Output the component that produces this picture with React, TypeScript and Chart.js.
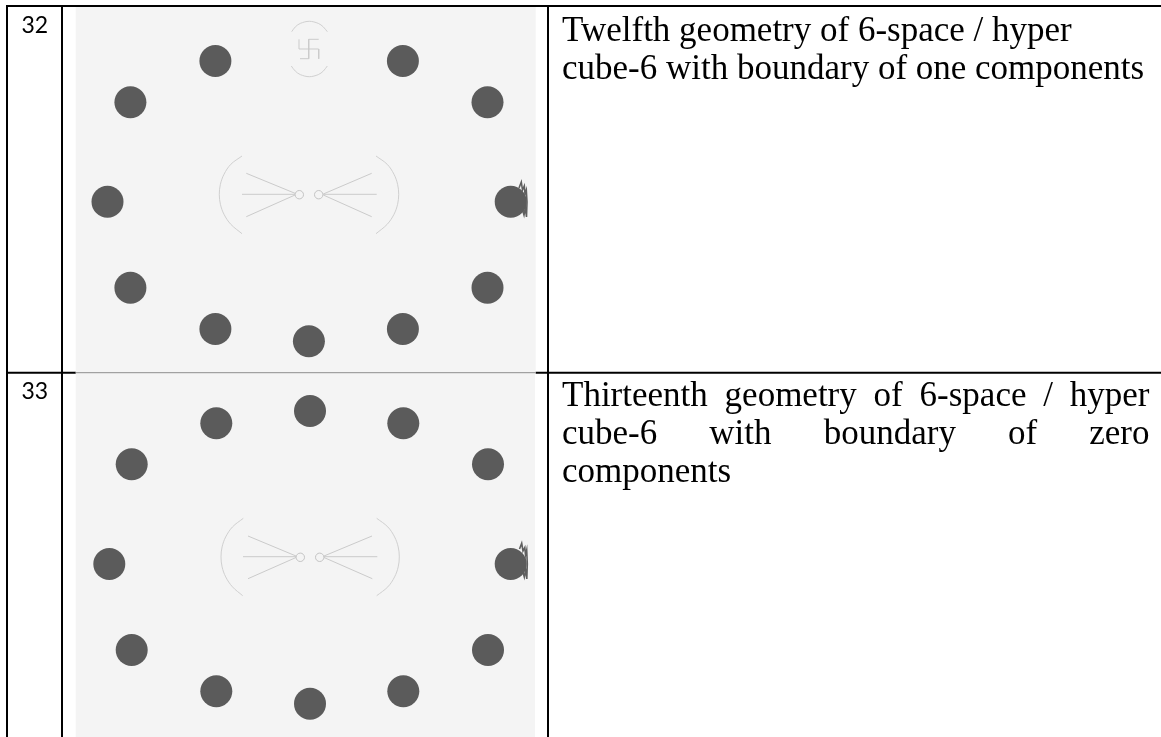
import React, { useEffect, useRef } from "react";
import { Chart, registerables } from "chart.js";

Chart.register(...registerables);

type P = { x: number; y: number };
const pts = (...v: number[][]): P[] => v.map(([x, y]) => ({ x, y }));

const dots32 = pts([215.4, 61], [402.9, 61], [130.4, 102.3], [487.5, 102.3], [107.5, 201.7], [510.7, 201.7], [130.4, 287.7], [487.5, 287.7], [215.4, 329], [402.9, 329], [308.9, 341.3]);
const dots33 = pts([216.3, 423.3], [403.3, 423.3], [310, 411], [131.7, 464.3], [488, 464.3], [109.3, 564], [510.7, 564], [131.7, 650], [488, 650], [216.3, 691.3], [403.3, 691.3], [310, 703.7]);

const spikes32 = pts([519, 188], [521.3, 182], [522.5, 190], [524.3, 186], [525, 194], [526.3, 190], [527, 202], [526.5, 217], [525.3, 208], [524, 215], [522, 208]);
const spikes33 = pts([519.5, 549], [521.7, 543.3], [523, 551], [524.8, 547.5], [525.5, 555], [526.7, 550], [527.3, 564], [526.8, 579], [525.6, 570], [524.3, 577], [522.3, 570]);

const rings32 = pts([299.3, 194.7], [318.7, 194.7]);
const rings33 = pts([300.3, 557.3], [319.7, 557.3]);

const curves = [
  pts([242, 156], [230.8, 164.3], [224, 174.3], [220.4, 184.3], [219.3, 194.3], [220.4, 204.3], [224, 214.3], [230.8, 224.3], [242, 233.7]),
  pts([376, 156], [387.2, 164.3], [394, 174.3], [397.6, 184.3], [398.7, 194.3], [397.6, 204.3], [394, 214.3], [387.2, 224.3], [376, 233.7]),
  pts([291.7, 31.7], [295.3, 26.9], [300.3, 23.4], [309.3, 21.3], [318.3, 23.4], [323.3, 26.9], [327.3, 31.7]),
  pts([291.3, 66], [295.3, 71.1], [300.3, 74.6], [309.3, 76.7], [318.3, 74.6], [323.3, 71.1], [327.3, 66]),
  pts([243.3, 518.3], [232.5, 526.9], [225.7, 536.9], [222.1, 546.9], [221, 556.9], [222.1, 566.9], [225.7, 576.9], [232.5, 586.9], [242.7, 595.7]),
  pts([376.7, 518.3], [387.8, 526.9], [394.6, 536.9], [398.2, 546.9], [399.3, 556.9], [398.2, 566.9], [394.6, 576.9], [387.8, 586.9], [376.7, 595.7]),
];

const strokes = [
  pts([246.3, 173.3], [295, 193.3]), pts([242, 194.3], [295, 194.3]), pts([246.3, 216.7], [295, 195]),
  pts([371.7, 173.3], [323.3, 194]), pts([376.7, 194.3], [323.3, 194.3]), pts([371.7, 216.7], [323.3, 195]),
  pts([248, 536], [296, 556]), pts([243, 556.7], [296, 556.7]), pts([248, 578.7], [296, 557.5]),
  pts([372, 536], [324, 556]), pts([377.3, 556.7], [324, 556.7]), pts([372.3, 578.7], [324, 557.5]),
  pts([308.7, 39.3], [308.7, 58.7]), pts([299, 49], [318.7, 49]), pts([308.7, 39.3], [318.7, 39.3]),
  pts([318.7, 49], [318.7, 58.7]), pts([308.7, 58.7], [300, 58.7]), pts([299, 49], [299, 39.3]),
];

const rules = [
  pts([6, 6], [1161, 6]), pts([7, 6], [7, 737]), pts([62, 6], [62, 737]), pts([548, 6], [548, 737]),
  pts([7, 372.7], [75.7, 372.7]), pts([535.7, 372.7], [1161, 372.7]),
];
const softRules = [pts([75.7, 372.7], [535.7, 372.7])];

const panels = [
  { x0: 75.7, x1: 535.7, y0: 7, y1: 372 },
  { x0: 75.7, x1: 535, y0: 373, y1: 737 },
];

const rowLabels = [
  { text: "32", x: 21.5, y: 32.5 },
  { text: "33", x: 21.5, y: 399 },
];

const captionLines = [
  { words: ["Twelfth", "geometry", "of", "6-space", "/", "hyper"], x: 562, y: 40.5, end: 0 },
  { words: ["cube-6", "with", "boundary", "of", "one", "components"], x: 562, y: 79, end: 0 },
  { words: ["Thirteenth", "geometry", "of", "6-space", "/", "hyper"], x: 562, y: 405.5, end: 1149.5 },
  { words: ["cube-6", "with", "boundary", "of", "zero"], x: 562, y: 444, end: 1149.5 },
  { words: ["components"], x: 562, y: 482, end: 0 },
];

const tablePlugin = {
  id: "tablePlugin",
  beforeDatasetsDraw(chart: any) {
    const { ctx, scales } = chart;
    const X = (v: number) => scales.x.getPixelForValue(v);
    const Y = (v: number) => scales.y.getPixelForValue(v);
    ctx.save();
    ctx.fillStyle = "#f4f4f4";
    panels.forEach((p) => ctx.fillRect(X(p.x0), Y(p.y0), X(p.x1) - X(p.x0), Y(p.y1) - Y(p.y0)));
    ctx.restore();
  },
  afterDatasetsDraw(chart: any) {
    const { ctx, scales } = chart;
    const X = (v: number) => scales.x.getPixelForValue(v);
    const Y = (v: number) => scales.y.getPixelForValue(v);
    ctx.save();
    ctx.fillStyle = "#000";
    ctx.textBaseline = "alphabetic";
    ctx.textAlign = "left";
    ctx.font = "23px Lato";
    rowLabels.forEach((l) => ctx.fillText(l.text, X(l.x), Y(l.y)));
    ctx.font = '35px "Liberation Serif"';
    const space = ctx.measureText(" ").width;
    captionLines.forEach((line) => {
      const widths = line.words.map((w) => ctx.measureText(w).width);
      const total = widths.reduce((a, b) => a + b, 0);
      const gap = line.end ? (line.end - line.x - total) / (line.words.length - 1) : space;
      let cx = line.x;
      line.words.forEach((w, i) => {
        ctx.fillText(w, X(cx), Y(line.y));
        cx += widths[i] + gap;
      });
    });
    ctx.restore();
  },
};

const lineSet = (data: P[], color: string, width: number, tension = 0) => ({
  data,
  showLine: true,
  borderColor: color,
  borderWidth: width,
  pointRadius: 0,
  tension,
  fill: false,
});

export default function App() {
  const ref = useRef<HTMLCanvasElement>(null);
  useEffect(() => {
    const chart = new Chart(ref.current!, {
      type: "scatter",
      data: {
        datasets: [
          ...[rings32, rings33].map((data) => ({
            data,
            pointRadius: 4.2,
            pointBackgroundColor: "#f4f4f4",
            pointBorderColor: "#c4c4c4",
            pointBorderWidth: 1,
          })),
          ...[dots32, dots33].map((data) => ({
            data,
            pointRadius: 16,
            pointBackgroundColor: "#5b5b5b",
            pointBorderWidth: 0,
          })),
          ...[spikes32, spikes33].map((d) => lineSet(d, "#5f5f5f", 1.6)),
          ...strokes.map((d) => lineSet(d, "#cbcbcb", 1)),
          ...curves.map((d) => lineSet(d, "#d0d0d0", 1, 0.35)),
          ...softRules.map((d) => lineSet(d, "#8c8c8c", 1)),
          ...rules.map((d) => lineSet(d, "#000", 2)),
        ] as any,
      },
      options: {
        animation: false,
        responsive: false,
        events: [],
        layout: { padding: 0, autoPadding: false },
        plugins: { legend: { display: false }, tooltip: { enabled: false } },
        scales: {
          x: { type: "linear", min: 0, max: 1161, display: false },
          y: { type: "linear", min: 0, max: 737, reverse: true, display: false },
        },
      },
      plugins: [tablePlugin],
    });
    return () => chart.destroy();
  }, []);
  return (
    <canvas
      ref={ref}
      width={1161}
      height={737}
      style={{ position: "fixed", left: 0, top: 0, width: 1161, height: 737, display: "block" }}
    />
  );
}
